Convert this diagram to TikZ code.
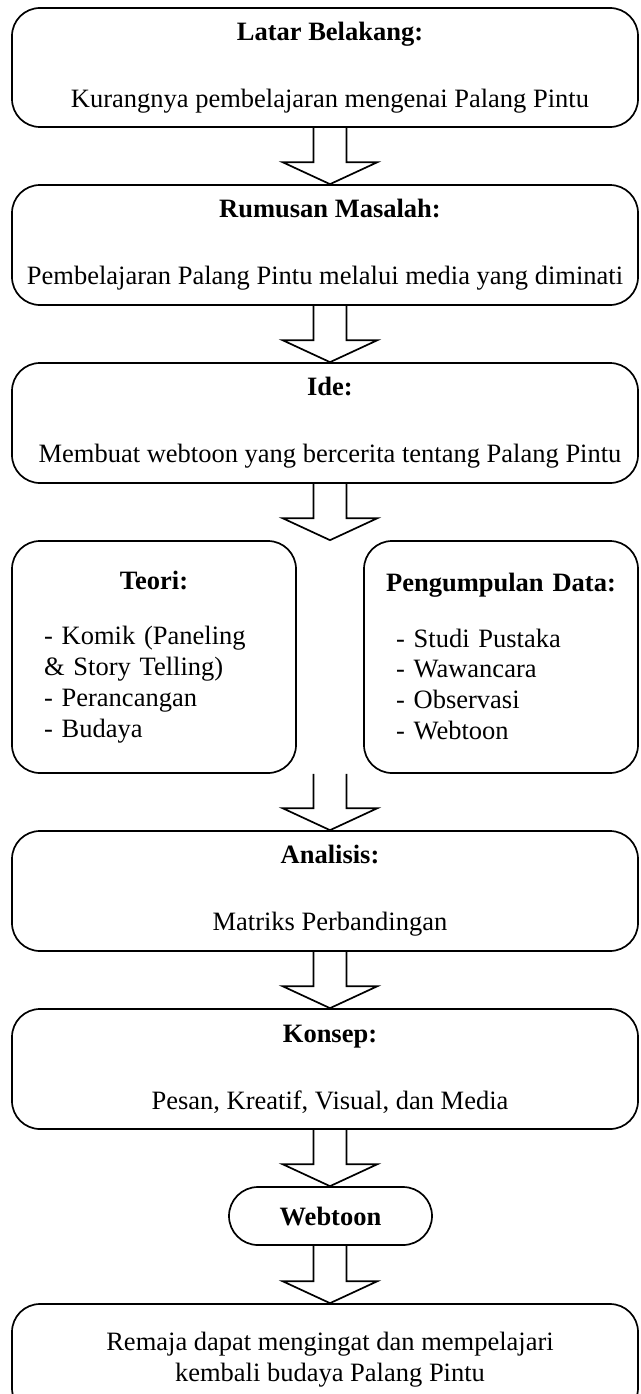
\documentclass[tikz,border=0pt]{standalone}
\usepackage{fontspec}
\setmainfont{Liberation Serif}
\usetikzlibrary{calc}

% block arrow from the bottom of #1 to the top of #2
\newcommand{\blockarrow}[2]{%
  \path (#1.south -| axis) coordinate (s) (#2.north -| axis) coordinate (t);
  \draw[barrow] ($(s)+(-16.5,0)$) -- ($(t)+(-16.5,-22)$) -- ($(t)+(-47.5,-22)$) -- (t)
    -- ($(t)+(47.5,-22)$) -- ($(t)+(16.5,-22)$) -- ($(s)+(16.5,0)$);
}
% text in the wide boxes sits a little right of their middle
\newcommand{\sh}{\hspace*{10pt}}

\begin{document}
\begin{tikzpicture}[x=1pt,y=-1pt,
  box/.style={draw,line width=1.7pt,rounded corners=28pt,align=center,inner sep=0pt,
    font=\fontsize{26.5}{31}\selectfont},
  side/.style={box,minimum height=232,align=left,inner xsep=32pt},
  barrow/.style={line width=1.7pt,line join=miter}]
\useasboundingbox (0,0) rectangle (640,1394);
\coordinate (axis) at (330,0);

\node[box,minimum width=626,minimum height=119] (latar) at (325,67.5)
  {\sh\textbf{Latar Belakang:}\\[36pt]\sh Kurangnya pembelajaran mengenai Palang Pintu};
\node[box,minimum width=626,minimum height=120] (rumusan) at (325,245)
  {\sh\textbf{Rumusan Masalah:}\\[36pt]Pembelajaran Palang Pintu melalui media yang diminati};
\node[box,minimum width=626,minimum height=120] (ide) at (325,423)
  {\sh\textbf{Ide:}\\[36pt]\sh Membuat webtoon yang bercerita tentang Palang Pintu};

\node[side,minimum width=284,text width=220] (teori) at (154,657)
  {\makebox[220pt]{\textbf{Teori:}}\\[24pt]- Komik (Paneling\\\& Story Telling)\\- Perancangan\\- Budaya};
\node[side,minimum width=274,text width=210] (data) at (501,657)
  {\makebox[210pt]{\textbf{Pengumpulan Data:}}\\[24pt]- Studi Pustaka\\- Wawancara\\- Observasi\\- Webtoon};

\node[box,minimum width=626,minimum height=120] (analisis) at (325,891)
  {\sh\textbf{Analisis:}\\[36pt]\sh Matriks Perbandingan};
\node[box,minimum width=626,minimum height=120] (konsep) at (325,1069)
  {\sh\textbf{Konsep:}\\[36pt]\sh Pesan, Kreatif, Visual, dan Media};
\node[box,minimum width=203,minimum height=58,rounded corners=29pt] (webtoon) at (330.5,1216)
  {\textbf{Webtoon}};
\node[box,minimum width=626,minimum height=112] (remaja) at (325,1360)
  {\sh Remaja dapat mengingat dan mempelajari\\\sh kembali budaya Palang Pintu};

\blockarrow{latar}{rumusan}
\blockarrow{rumusan}{ide}
\blockarrow{ide}{teori}
\blockarrow{teori}{analisis}
\blockarrow{analisis}{konsep}
\blockarrow{konsep}{webtoon}
\blockarrow{webtoon}{remaja}
\end{tikzpicture}
\end{document}
